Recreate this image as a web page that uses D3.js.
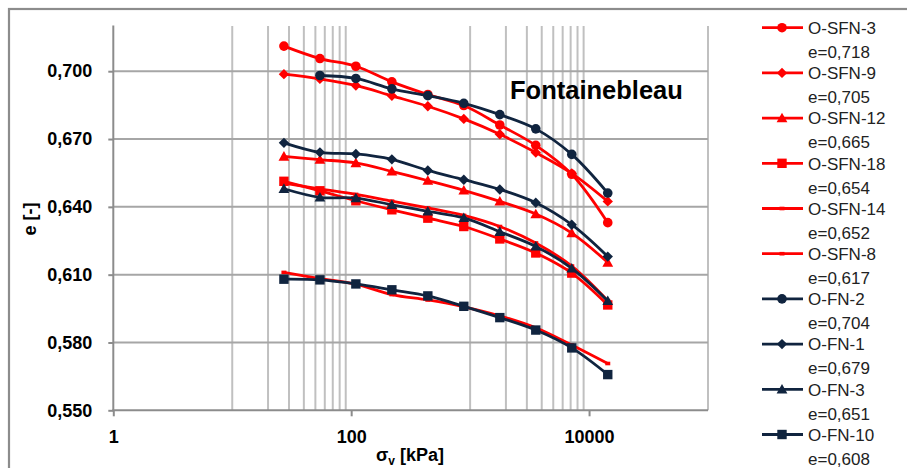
<!DOCTYPE html>
<html>
<head>
<meta charset="utf-8">
<script src="https://cdn.jsdelivr.net/npm/d3@7"></script>
<style>
  html, body { margin: 0; padding: 0; background: #fff; }
  svg { display: block; font-family: "Liberation Sans", Arial, sans-serif; }
</style>
</head>
<body>
<svg id="chart" width="907" height="468"></svg>
<script>
// ---------- data ----------
const sigmaV = [27.2, 54.6, 109.5, 219.8, 441, 885, 1777, 3565, 7155, 14360];

const O_SFN_3  = [0.7111, 0.7056, 0.7022, 0.6953, 0.6897, 0.6848, 0.6762, 0.6672, 0.6544, 0.6330];
const O_SFN_9  = [0.6987, 0.6966, 0.6937, 0.6891, 0.6845, 0.6789, 0.6721, 0.6640, 0.6548, 0.6424];
const O_SFN_12 = [0.6623, 0.6609, 0.6594, 0.6557, 0.6516, 0.6473, 0.6424, 0.6368, 0.6284, 0.6154];
const O_SFN_18 = [0.6513, 0.6471, 0.6427, 0.6387, 0.6350, 0.6313, 0.6258, 0.6196, 0.6107, 0.5966];
const O_SFN_14 = [0.6505, 0.6479, 0.6455, 0.6425, 0.6395, 0.6362, 0.6313, 0.6240, 0.6138, 0.5985];
const O_SFN_8  = [0.6110, 0.6083, 0.6058, 0.6012, 0.5988, 0.5958, 0.5918, 0.5865, 0.5789, 0.5707];
const O_FN_2   = [null,   0.6981, 0.6968, 0.6922, 0.6892, 0.6858, 0.6808, 0.6745, 0.6632, 0.6461];
const O_FN_1   = [0.6683, 0.6641, 0.6634, 0.6610, 0.6561, 0.6520, 0.6477, 0.6418, 0.6321, 0.6180];
const O_FN_3   = [0.6480, 0.6442, 0.6439, 0.6409, 0.6380, 0.6351, 0.6290, 0.6225, 0.6128, 0.5984];
const O_FN_10  = [0.6080, 0.6077, 0.6059, 0.6033, 0.6006, 0.5960, 0.5910, 0.5855, 0.5776, 0.5658];

const seriesNames = ["O-SFN-3", "O-SFN-9", "O-SFN-12", "O-SFN-18", "O-SFN-14", "O-SFN-8",
                     "O-FN-2", "O-FN-1", "O-FN-3", "O-FN-10"];
const initialVoid = ["e=0,718", "e=0,705", "e=0,665", "e=0,654", "e=0,652", "e=0,617",
                     "e=0,704", "e=0,679", "e=0,651", "e=0,608"];
const seriesValues = [O_SFN_3, O_SFN_9, O_SFN_12, O_SFN_18, O_SFN_14, O_SFN_8,
                      O_FN_2, O_FN_1, O_FN_3, O_FN_10];

const yTicks = [0.55, 0.58, 0.61, 0.64, 0.67, 0.70];
const xTickLabels = [1, 100, 10000];
const xGrid = [10, 20, 30, 40, 50, 60, 70, 80, 90, 1000, 2000, 3000, 4000, 5000, 6000, 7000, 8000, 9000, 100000];

// ---------- styles ----------
const RED = "#ff0000", NAVY = "#10243f";
const styles = [
  {color: RED, marker: "circle"}, {color: RED, marker: "diamond"}, {color: RED, marker: "triangle"},
  {color: RED, marker: "square"}, {color: RED, marker: "dash"}, {color: RED, marker: "dash"},
  {color: NAVY, marker: "circle"}, {color: NAVY, marker: "diamond"}, {color: NAVY, marker: "triangle"},
  {color: NAVY, marker: "square"}
];

const svg = d3.select("#chart");
const L = 113.3, R = 708, T = 26, B = 410.3;

const x = d3.scaleLog().domain([1, 100000]).range([L, R]);
const y = d3.scaleLinear().domain([0.55, 0.72]).range([B, T]);

// outer chart frame
svg.append("rect").attr("x", 9).attr("y", 9).attr("width", 1000).attr("height", 1000)
  .attr("fill", "none").attr("stroke", "#8c8c8c").attr("stroke-width", 2.2);

// vertical gridlines
svg.append("g").selectAll("line").data(xGrid).join("line")
  .attr("x1", d => x(d)).attr("x2", d => x(d)).attr("y1", T).attr("y2", B)
  .attr("stroke", "#c0c0c0").attr("stroke-width", 2);

// horizontal gridlines
svg.append("g").selectAll("line").data(yTicks.slice(1)).join("line")
  .attr("x1", L).attr("x2", R).attr("y1", d => y(d)).attr("y2", d => y(d))
  .attr("stroke", "#a6a6a6").attr("stroke-width", 2);

const fmt = d => d3.format(".3f")(d).replace(".", ",");

// y axis
const yAxis = svg.append("g").attr("transform", `translate(${L},0)`)
  .call(d3.axisLeft(y).tickValues(yTicks).tickFormat(fmt).tickSize(5).tickSizeOuter(0).tickPadding(16));
// x axis
const xAxis = svg.append("g").attr("transform", `translate(0,${B})`)
  .call(d3.axisBottom(x).tickValues(xTickLabels).tickFormat(d3.format("d")).tickSize(6).tickSizeOuter(0).tickPadding(14));

[yAxis, xAxis].forEach(a => {
  a.select(".domain").attr("stroke", "#8c8c8c").attr("stroke-width", 2);
  a.selectAll(".tick line").attr("stroke", "#8c8c8c").attr("stroke-width", 2);
  a.selectAll(".tick text").attr("fill", "#000").attr("font-size", 18).attr("font-weight", "bold")
    .attr("font-family", "'Liberation Sans', Arial, sans-serif");
});
yAxis.select(".domain").attr("d", `M0,${B}V${T - 0.5}`);
xAxis.select(".domain").attr("d", `M${L - 1},0H${R}`);

// axis titles
svg.append("text").attr("x", 410).attr("y", 461).attr("text-anchor", "middle")
  .attr("font-size", 18).attr("font-weight", "bold")
  .html('σ<tspan font-size="12" dy="4">v</tspan><tspan dy="-4"> [kPa]</tspan>');
svg.append("text").attr("transform", "translate(36,219) rotate(-90)").attr("text-anchor", "middle")
  .attr("font-size", 18).attr("font-weight", "bold").text("e [-]");

// annotation
svg.append("text").attr("x", 510).attr("y", 98.5).attr("font-size", 25.5).attr("font-weight", "bold")
  .text("Fontainebleau");

// marker drawing
function drawMarker(g, type, color) {
  if (type === "circle") {
    g.append("circle").attr("r", 4.8).attr("fill", color);
  } else if (type === "diamond") {
    g.append("path").attr("d", "M0,-5.2L5.2,0L0,5.2L-5.2,0Z").attr("fill", color);
  } else if (type === "triangle") {
    g.append("path").attr("d", "M0,-5.4L5.4,4.2L-5.4,4.2Z").attr("fill", color);
  } else if (type === "square") {
    g.append("rect").attr("x", -4.7).attr("y", -4.7).attr("width", 9.4).attr("height", 9.4).attr("fill", color);
  } else if (type === "dash") {
    g.append("rect").attr("x", -2.5).attr("y", -1.8).attr("width", 5).attr("height", 3.6).attr("fill", color);
  }
}

// series
const line = d3.line()
  .defined(d => d.e != null)
  .x(d => x(d.s)).y(d => y(d.e))
  .curve(d3.curveCatmullRom.alpha(0.5));

const plot = svg.append("g");
seriesValues.forEach((vals, i) => {
  const pts = sigmaV.map((s, k) => ({s, e: vals[k]}));
  const g = plot.append("g");
  g.append("path").datum(pts.filter(p => p.e != null)).attr("d", line)
    .attr("fill", "none").attr("stroke", styles[i].color).attr("stroke-width", 2.8)
    .attr("stroke-linejoin", "round");
  pts.filter(p => p.e != null).forEach(p => {
    const m = g.append("g").attr("transform", `translate(${x(p.s)},${y(p.e)})`);
    drawMarker(m, styles[i].marker, styles[i].color);
  });
});

// legend
const legend = svg.append("g");
seriesNames.forEach((name, i) => {
  const cy = 27.7 + 45.2 * i;
  const g = legend.append("g");
  g.append("line").attr("x1", 762).attr("x2", 803).attr("y1", cy).attr("y2", cy)
    .attr("stroke", styles[i].color).attr("stroke-width", 2.8);
  const m = g.append("g").attr("transform", `translate(782,${cy})`);
  drawMarker(m, styles[i].marker, styles[i].color);
  g.append("text").attr("x", 808).attr("y", cy + 6.2).attr("font-size", 17).attr("fill", "#222").text(name);
  g.append("text").attr("x", 808).attr("y", cy + 30.2).attr("font-size", 17).attr("fill", "#222").text(initialVoid[i]);
});
</script>
</body>
</html>
